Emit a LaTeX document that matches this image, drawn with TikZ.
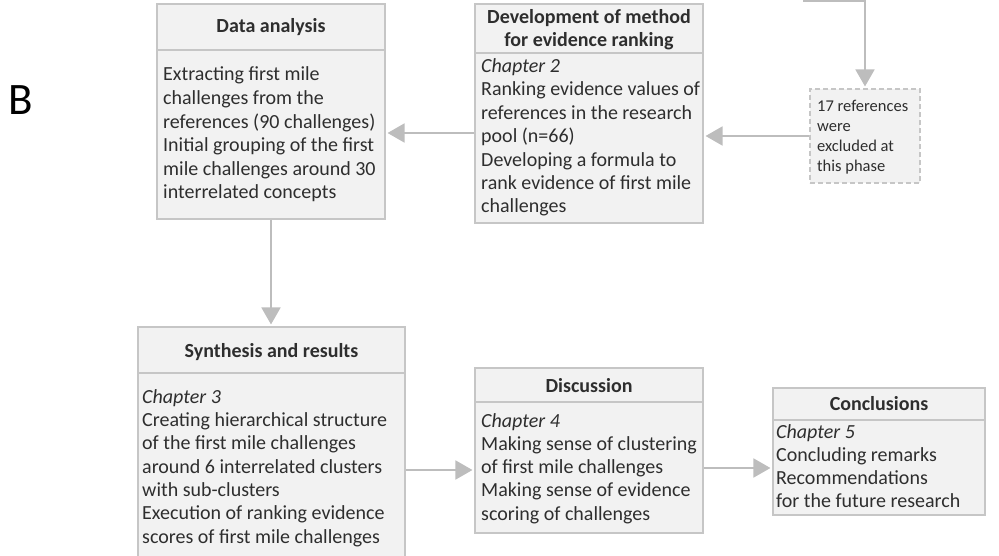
\documentclass[tikz,border=0pt]{standalone}
\usepackage{fontspec}
\setmainfont{Carlito}
\usetikzlibrary{arrows.meta}
\definecolor{boxfill}{HTML}{F2F2F2}
\definecolor{boxedge}{HTML}{C6C6C6}
\definecolor{arrowgray}{HTML}{BDBDBD}
\definecolor{txt}{HTML}{2E2E2E}
\tikzset{
  box/.style={draw=boxedge, fill=boxfill, line width=1.1pt, inner sep=0pt},
  exclbox/.style={box, dash pattern=on 5pt off 3pt},
  sepline/.style={draw=boxedge, line width=1.1pt},
  % multi-line nodes: the base anchor sits on the baseline of the last line
  body/.style={anchor=base west, inner sep=0pt, align=left, text=txt,
    font=\fontsize{20}{23.3}\selectfont},
  head/.style={anchor=base, inner sep=0pt, align=center, text=txt,
    font=\fontsize{20}{23}\selectfont\bfseries},
  small/.style={anchor=base west, inner sep=0pt, align=left, text=txt,
    font=\fontsize{16.5}{20}\selectfont},
  arr/.style={draw=arrowgray, line width=1.8pt,
    -{Triangle[length=17pt,width=19pt]}, shorten >=2pt}
}
\begin{document}
\begin{tikzpicture}[x=1pt,y=-1pt]
\useasboundingbox (0,0) rectangle (999,556);

% panel letter
\node[anchor=base west, inner sep=0pt, font=\fontsize{45}{45}\selectfont] (lbl) at (8,115) {B};

% boxes
\node[box, minimum width=228pt, minimum height=215pt] (da) at (271,111.5) {};
\node[box, minimum width=228pt, minimum height=219pt] (dev) at (589,113.5) {};
\node[exclbox, minimum width=110pt, minimum height=94pt] (exc) at (865,136) {};
\node[box, minimum width=267pt, minimum height=250pt] (syn) at (271.5,452) {};
\node[box, minimum width=228pt, minimum height=165pt] (dis) at (589,450.5) {};
\node[box, minimum width=212pt, minimum height=127pt] (con) at (879,451.5) {};

% header separators
\draw[sepline] (da.west |- 0,50) -- (da.east |- 0,50);
\draw[sepline] (dev.west |- 0,53) -- (dev.east |- 0,53);
\draw[sepline] (syn.west |- 0,373) -- (syn.east |- 0,373);
\draw[sepline] (dis.west |- 0,402) -- (dis.east |- 0,402);
\draw[sepline] (con.west |- 0,420) -- (con.east |- 0,420);

% headers
\node[head] (dah) at (271,33) {Data analysis};
\node[head] (devh) at (589,47) {Development of method\\for evidence ranking};
\node[head] (synh) at (271.5,357) {Synthesis and results};
\node[head] (dish) at (589,392) {Discussion};
\node[head] (conh) at (879,410) {Conclusions};

% body texts
\node[body, font=\fontsize{20}{23.6}\selectfont] (dat) at (163,199) {Extracting first mile\\challenges from the\\references (90 challenges)\\Initial grouping of the first\\mile challenges around 30\\interrelated concepts};
\node[body, font=\fontsize{20}{23.4}\selectfont] (devt) at (481,213) {\textit{Chapter 2}\\Ranking evidence values of\\references in the research\\pool (n=66)\\Developing a formula to\\rank evidence of first mile\\challenges};
\node[body] (synt) at (142,543) {\textit{Chapter 3}\\Creating hierarchical structure\\of the first mile challenges\\around 6 interrelated clusters\\with sub-clusters\\Execution of ranking evidence\\scores of first mile challenges};
\node[body, font=\fontsize{20}{23.25}\selectfont] (dist) at (481,520) {\textit{Chapter 4}\\Making sense of clustering\\of first mile challenges\\Making sense of evidence\\scoring of challenges};
\node[body, font=\fontsize{20}{23}\selectfont] (cont) at (776,507.5) {\textit{Chapter 5}\\Concluding remarks\\Recommendations\\for the future research};
\node[small] (exct) at (817,171.7) {17 references\\were\\excluded at\\this phase};

% connectors
\coordinate (feed) at (803,1);
\coordinate (y1) at (0,133);
\coordinate (y3) at (0,470);
\coordinate (y4) at (0,468);
\draw[arr] (feed) -- (feed -| exc.north) -- (exc.north);
\draw[arr] (exc.west) -- (exc.west -| dev.east);
\draw[arr] (dev.west |- y1) -- (da.east |- y1);
\draw[arr] (da.south) -- (da.south |- syn.north);
\draw[arr] (syn.east |- y3) -- (dis.west |- y3);
\draw[arr] (dis.east |- y4) -- (con.west |- y4);
\end{tikzpicture}
\end{document}
